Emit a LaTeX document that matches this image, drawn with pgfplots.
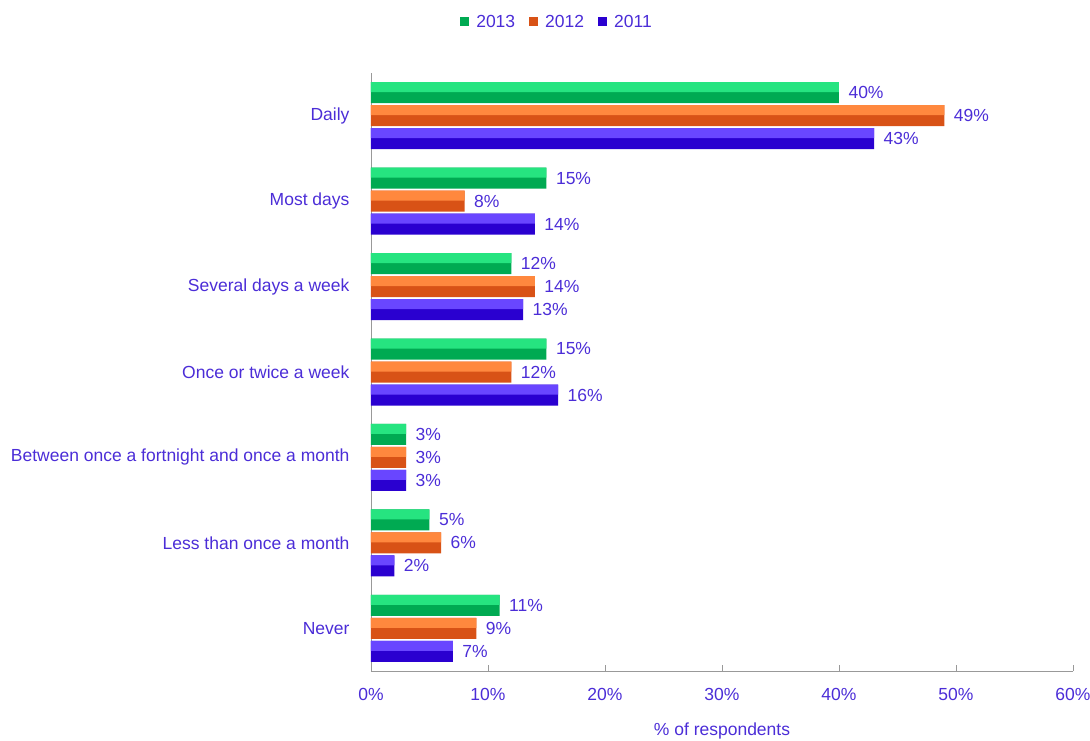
\documentclass[border=0pt]{standalone}
\usepackage{pgfplots}
\pgfplotsset{compat=1.18}
\usepackage{fontspec}
\setmainfont{Liberation Sans}
\definecolor{lblue}{RGB}{75,45,215}
\definecolor{gtop}{RGB}{38,228,128}
\definecolor{gbot}{RGB}{0,170,82}
\definecolor{otop}{RGB}{255,136,62}
\definecolor{obot}{RGB}{216,82,22}
\definecolor{btop}{RGB}{105,70,255}
\definecolor{bbot}{RGB}{42,0,208}
\pgfplotstableread{
y g2013 o2012 b2011
0 11 9 7
1 5 6 2
2 3 3 3
3 15 12 16
4 12 14 13
5 15 8 14
6 40 49 43
}\datatab
\begin{document}
\begin{tikzpicture}[font=\fontsize{17.5}{21}\selectfont]
\path[use as bounding box] (-371pt,-69pt) rectangle (719pt,671pt);
\begin{axis}[
  at={(0pt,0pt)}, anchor=south west,
  scale only axis, width=702pt, height=598pt,
  xbar, bar width=21pt,
  xmin=0, xmax=60, ymin=-0.5, ymax=6.5,
  xtick={0,10,20,30,40,50,60},
  xticklabel={\pgfmathprintnumber{\tick}\%},
  ytick={0,1,2,3,4,5,6},
  yticklabels={Never,Less than once a month,Between once a fortnight and once a month,Once or twice a week,Several days a week,Most days,Daily},
  /pgf/number format/assume math mode=true,
  axis x line*=bottom, axis y line*=left,
  axis line style={draw=gray!80, line width=0.8pt},
  x axis line style={-}, y axis line style={-},
  xtick style={draw=gray!80, line width=0.8pt},
  major tick length=6pt,
  xtick align=inside,
  ytick style={draw=none},
  tick label style={text=lblue},
  xticklabel style={yshift=-14pt},
  yticklabel style={xshift=-12pt},
  xlabel={\% of respondents},
  xlabel style={text=lblue, yshift=-15pt},
  lbl/.style={point meta=x,
    nodes near coords={\pgfmathprintnumber{\pgfplotspointmeta}\%},
    nodes near coords style={text=lblue, anchor=west, xshift=6pt}},
  legend columns=3,
  legend style={at={(0.265,1.0853)}, anchor=center, draw=none, fill=none,
    text=lblue, /tikz/every even column/.append style={column sep=12pt},
    /tikz/every odd column/.append style={column sep=5pt}},
  legend image code/.code={\fill[#1] (0pt,-4.5pt) rectangle (9pt,4.5pt);},
]
\addplot[draw=none, fill=gbot, bar shift=23pt, lbl] table[x=g2013,y=y] {\datatab};
\addplot[draw=none, fill=obot, bar shift=0pt, lbl] table[x=o2012,y=y] {\datatab};
\addplot[draw=none, fill=bbot, bar shift=-23pt, lbl] table[x=b2011,y=y] {\datatab};
\addplot[draw=none, fill=gtop, bar width=10pt, bar shift=28.5pt, forget plot] table[x=g2013,y=y] {\datatab};
\addplot[draw=none, fill=otop, bar width=10pt, bar shift=5.5pt, forget plot] table[x=o2012,y=y] {\datatab};
\addplot[draw=none, fill=btop, bar width=10pt, bar shift=-17.5pt, forget plot] table[x=b2011,y=y] {\datatab};
\legend{2013,2012,2011}
\end{axis}
\end{tikzpicture}
\end{document}
